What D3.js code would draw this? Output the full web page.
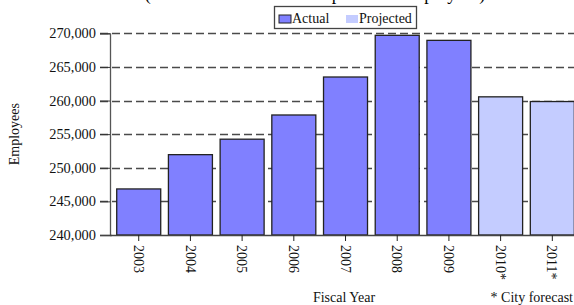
<!DOCTYPE html>
<html>
<head>
<meta charset="utf-8">
<script src="https://cdn.jsdelivr.net/npm/d3@7"></script>
<style>
  html, body { margin: 0; padding: 0; background: #fff; overflow: hidden; }
  svg { display: block; font-family: "Liberation Serif", "DejaVu Serif", serif; }
</style>
</head>
<body>
<svg id="chart" width="574" height="305"></svg>
<script>
const years = ["2003", "2004", "2005", "2006", "2007", "2008", "2009", "2010*", "2011*"];
const employees = [246850, 251950, 254250, 257850, 263500, 269700, 268950, 260550, 259850];
const kinds = ["Actual", "Actual", "Actual", "Actual", "Actual", "Actual", "Actual", "Projected", "Projected"];
const yTicks = [240000, 245000, 250000, 255000, 260000, 265000, 270000];
const legendItems = ["Actual", "Projected"];
const colors = { "Actual": "#8080FF", "Projected": "#C4CCFF" };
const subtitle = "(Number of full-time and part-time employees)";

const svg = d3.select("#chart");
const W = 574;

const x = d3.scaleBand()
  .domain(years)
  .range([110, 110 + 51.7 * (9 - 0.149 + 2 * 0.13)])
  .paddingInner(0.149)
  .paddingOuter(0.13);

const y = d3.scaleLinear().domain([240000, 270000]).range([235, 33.3]);

// subtitle (mostly cut off at top, as in the reference)
svg.append("text")
  .attr("x", 315).attr("y", -0.5)
  .attr("text-anchor", "middle")
  .attr("font-size", 18)
  .text(subtitle);

// dashed gridlines
svg.append("g").selectAll("line")
  .data(yTicks.filter(d => d > 240000))
  .join("line")
  .attr("x1", 100).attr("x2", W)
  .attr("y1", d => Math.round(y(d)) + 0.5).attr("y2", d => Math.round(y(d)) + 0.5)
  .attr("stroke", "#4a4a4a").attr("stroke-width", 1.3)
  .attr("stroke-dasharray", "8,4");

// bars
const data = years.map((yr, i) => ({ yr, v: employees[i], k: kinds[i] }));
svg.append("g").selectAll("rect")
  .data(data)
  .join("rect")
  .attr("x", d => x(d.yr))
  .attr("y", d => y(d.v))
  .attr("width", x.bandwidth())
  .attr("height", d => y(240000) - y(d.v))
  .attr("fill", d => colors[d.k])
  .attr("stroke", "#222")
  .attr("stroke-width", 1.3);

// y axis
const yAxis = d3.axisLeft(y)
  .tickValues(yTicks)
  .tickSize(10)
  .tickPadding(4)
  .tickFormat(d3.format(","));
const gy = svg.append("g").attr("transform", "translate(110,0)").call(yAxis);
gy.select(".domain").attr("stroke", "#555").attr("stroke-width", 1.3);
gy.selectAll(".tick line").attr("stroke", "#333");
gy.selectAll(".tick text").attr("font-size", 14.4).attr("fill", "#111")
  .attr("font-family", "Liberation Serif");

// x axis
const xAxis = d3.axisBottom(x).tickSize(6).tickSizeOuter(0).tickFormat("");
const gx = svg.append("g").attr("transform", "translate(0,235)").call(xAxis);
gx.select(".domain").attr("stroke", "#444").attr("stroke-width", 1.3);
gx.selectAll(".tick line").attr("stroke", "#222");
svg.append("line")
  .attr("x1", 100).attr("x2", 112).attr("y1", 235.5).attr("y2", 235.5)
  .attr("stroke", "#444").attr("stroke-width", 1.3);

// rotated x labels
svg.append("g").selectAll("text")
  .data(years)
  .join("text")
  .attr("transform", d => `translate(${x(d) + x.bandwidth() / 2},245) rotate(90)`)
  .attr("dy", "0.35em")
  .attr("text-anchor", "start")
  .attr("font-size", 14)
  .attr("fill", "#111")
  .text(d => d);

// axis titles
svg.append("text")
  .attr("transform", `translate(19,${(33.3 + 235) / 2}) rotate(-90)`)
  .attr("text-anchor", "middle")
  .attr("font-size", 14)
  .attr("fill", "#111")
  .text("Employees");

svg.append("text")
  .attr("x", 344).attr("y", 302)
  .attr("text-anchor", "middle")
  .attr("font-size", 14)
  .attr("fill", "#111")
  .text("Fiscal Year");

svg.append("text")
  .attr("x", 573).attr("y", 302)
  .attr("text-anchor", "end")
  .attr("font-size", 14)
  .attr("fill", "#111")
  .text("* City forecast");

// legend
const lg = svg.append("g");
lg.append("rect")
  .attr("x", 274.5).attr("y", 6.5).attr("width", 142).attr("height", 22)
  .attr("fill", "#fff").attr("stroke", "#444").attr("stroke-width", 1.3);
const lx = [279, 346];
legendItems.forEach((k, i) => {
  lg.append("rect")
    .attr("x", lx[i]).attr("y", 15).attr("width", 12).attr("height", 8)
    .attr("fill", colors[k])
    .attr("stroke", k === "Actual" ? "#222" : "none")
    .attr("stroke-width", 1);
  lg.append("text")
    .attr("x", lx[i] + 13).attr("y", 23)
    .attr("font-size", 14)
    .attr("fill", "#111")
    .text(k);
});
</script>
</body>
</html>
